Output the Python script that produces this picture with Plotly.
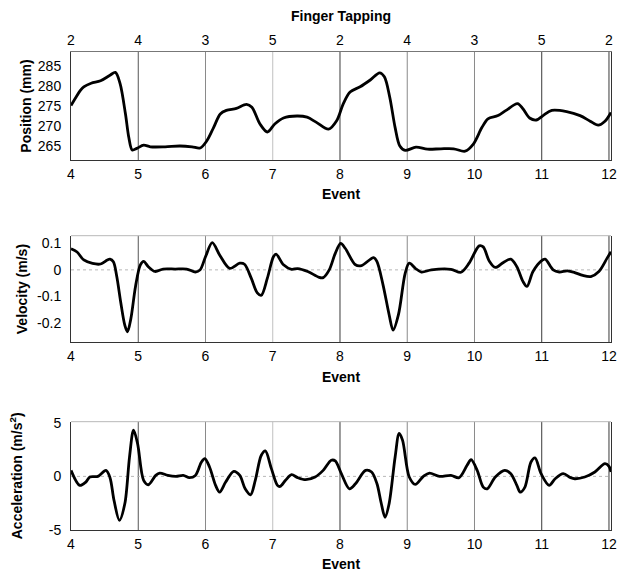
import plotly.graph_objects as go

# ---------------- data ----------------
events = [4, 5, 6, 7, 8, 9, 10, 11, 12]
finger_labels = ["2", "4", "3", "5", "2", "4", "3", "5", "2"]
event_line_colors = ["#444444", "#555555", "#8a8a8a", "#c0c0c0", "#3a3a3a",
                     "#8a8a8a", "#8a8a8a", "#3a3a3a", "#3a3a3a"]

pos_x = [4.00, 4.14, 4.19, 4.30, 4.44, 4.58, 4.66, 4.73, 4.81, 4.86, 4.91, 4.98,
         5.08, 5.18, 5.40, 5.62, 5.80, 5.92, 6.02, 6.12, 6.22, 6.31, 6.46, 6.61,
         6.69, 6.81, 6.92, 7.03, 7.16, 7.36, 7.51, 7.65, 7.83, 7.95, 8.05, 8.15,
         8.30, 8.45, 8.59, 8.66, 8.74, 8.82, 8.89, 8.97, 9.13, 9.30, 9.50, 9.69,
         9.86, 9.98, 10.11, 10.20, 10.35, 10.47, 10.64, 10.72, 10.82, 10.92, 11.02,
         11.15, 11.37, 11.57, 11.72, 11.84, 11.94, 12.03]
pos_y = [275.1, 278.9, 279.8, 280.7, 281.3, 282.7, 283.4, 280.6, 273.0, 267.1, 264.0, 264.4,
         265.2, 264.8, 264.8, 265.0, 264.8, 264.5, 266.3, 269.6, 273.0, 273.9, 274.4, 275.4,
         274.7, 270.5, 268.5, 270.5, 272.0, 272.5, 272.2, 270.9, 269.2, 271.3, 275.6, 278.5,
         279.8, 281.5, 283.3, 282.3, 277.2, 269.6, 265.0, 263.9, 264.7, 264.2, 264.3, 264.3,
         263.7, 265.4, 269.6, 271.8, 272.6, 273.9, 275.6, 274.3, 272.0, 271.5, 272.6,
         273.9, 273.6, 272.6, 271.2, 270.2, 271.2, 273.4]

vel_x = [4.00, 4.09, 4.19, 4.32, 4.44, 4.54, 4.58, 4.63, 4.68, 4.74, 4.80, 4.84, 4.89,
         4.96, 5.03, 5.08, 5.15, 5.25, 5.37, 5.55, 5.72, 5.85, 5.92, 6.00, 6.10, 6.21,
         6.36, 6.51, 6.58, 6.68, 6.77, 6.83, 6.92, 7.01, 7.05, 7.16, 7.28, 7.37, 7.52,
         7.69, 7.75, 7.84, 7.93, 8.01, 8.08, 8.23, 8.32, 8.50, 8.55, 8.64, 8.73, 8.79,
         8.87, 8.97, 9.03, 9.12, 9.21, 9.36, 9.65, 9.80, 9.92, 10.07, 10.13, 10.22,
         10.31, 10.43, 10.54, 10.63, 10.72, 10.78, 10.87, 10.99, 11.05, 11.17, 11.26,
         11.38, 11.49, 11.61, 11.73, 11.85, 11.97, 12.03]
vel_y = [0.079, 0.067, 0.037, 0.024, 0.022, 0.037, 0.040, 0.030, -0.024, -0.122, -0.207,
         -0.232, -0.183, -0.061, 0.018, 0.032, 0.012, -0.006, 0.003, 0.003, 0.003, -0.008,
         0.000, 0.049, 0.102, 0.056, 0.006, 0.025, 0.021, -0.031, -0.086, -0.095, -0.031,
         0.049, 0.059, 0.019, 0.002, 0.005, -0.006, -0.028, -0.029, 0.000, 0.062, 0.099,
         0.080, 0.019, 0.016, 0.046, 0.031, -0.056, -0.167, -0.226, -0.167, -0.012, 0.025,
         0.006, -0.008, 0.000, 0.002, -0.009, 0.025, 0.090, 0.086, 0.033, 0.009, 0.028,
         0.040, 0.012, -0.043, -0.062, -0.006, 0.033, 0.040, 0.000, -0.008, -0.004, -0.010,
         -0.021, -0.025, -0.006, 0.043, 0.068]

acc_x = [4.00, 4.13, 4.22, 4.28, 4.40, 4.52, 4.58, 4.64, 4.72, 4.80, 4.87, 4.93, 4.99,
         5.08, 5.15, 5.26, 5.32, 5.44, 5.56, 5.67, 5.76, 5.85, 5.94, 5.99, 6.06, 6.15,
         6.21, 6.30, 6.42, 6.51, 6.59, 6.67, 6.74, 6.83, 6.89, 6.98, 7.07, 7.11, 7.19,
         7.28, 7.37, 7.49, 7.63, 7.75, 7.87, 7.93, 8.02, 8.14, 8.23, 8.38, 8.47, 8.55,
         8.61, 8.67, 8.73, 8.82, 8.88, 8.93, 9.03, 9.12, 9.24, 9.33, 9.48, 9.65, 9.77,
         9.89, 9.95, 10.04, 10.13, 10.19, 10.31, 10.45, 10.54, 10.63, 10.68, 10.75,
         10.84, 10.90, 10.99, 11.11, 11.20, 11.32, 11.43, 11.49, 11.64, 11.79, 11.94,
         12.00, 12.03]
acc_y = [0.56, -0.84, -0.53, -0.06, 0.00, 0.56, -0.12, -2.25, -4.10, -2.56, 1.80, 4.30,
         3.06, -0.37, -0.78, 0.09, 0.31, 0.09, 0.00, 0.09, -0.12, 0.09, 1.34, 1.66, 0.88,
         -0.84, -1.47, -0.53, 0.47, 0.09, -1.16, -1.72, -0.37, 1.97, 2.38, 0.72, -0.84,
         -0.94, -0.37, 0.16, -0.12, -0.31, -0.06, 0.56, 1.50, 1.44, 0.25, -1.16, -0.69,
         0.56, 0.41, -0.69, -2.41, -3.81, -2.56, 1.81, 4.00, 3.38, -0.06, -0.75, 0.00,
         0.31, 0.00, 0.09, -0.12, 1.03, 1.56, 0.56, -1.00, -1.16, -0.06, 0.56, 0.25,
         -0.84, -1.47, -1.00, 1.34, 1.72, 0.25, -0.84, -0.22, 0.25, -0.12, -0.22, -0.06,
         0.41, 1.19, 0.94, 0.41]

pos_ticks = [265, 270, 275, 280, 285]
vel_ticks = [-0.2, -0.1, 0, 0.1]
vel_ticktext = ["-0.2", "-0.1", "0", "0.1"]
acc_ticks = [-5, 0, 5]
acc_ticktext = ["-5", "0", "5"]
x_ticktext = [str(e) for e in events]

# ---------------- figure ----------------
FONT = "Liberation Sans, Arial, Helvetica, sans-serif"
XR = [4, 12.03]
line_style = dict(color="black", width=2.8, shape="spline", smoothing=0.9)

fig = go.Figure()
fig.add_trace(go.Scatter(x=pos_x, y=pos_y, mode="lines", line=line_style,
                         xaxis="x", yaxis="y", showlegend=False, hoverinfo="skip"))
fig.add_trace(go.Scatter(x=pos_x, y=pos_y, mode="lines", opacity=0,
                         xaxis="x4", yaxis="y", showlegend=False, hoverinfo="skip"))
fig.add_trace(go.Scatter(x=vel_x, y=vel_y, mode="lines", line=line_style,
                         xaxis="x2", yaxis="y2", showlegend=False, hoverinfo="skip"))
fig.add_trace(go.Scatter(x=acc_x, y=acc_y, mode="lines", line=line_style,
                         xaxis="x3", yaxis="y3", showlegend=False, hoverinfo="skip"))

tickfont = dict(family=FONT, size=14, color="black")
titlefont = dict(family=FONT, size=14, color="black", weight="bold")

def xaxis_cfg(anchor):
    return dict(anchor=anchor, domain=[0, 1], range=XR, tickvals=events,
                ticktext=x_ticktext, showgrid=False, zeroline=False,
                showline=True, linecolor="#333333", linewidth=1,
                ticks="", tickfont=tickfont, ticklabelstandoff=1,
                title=dict(text="Event", font=titlefont, standoff=8),
                automargin=False)

def yaxis_cfg(anchor, domain, rng, tv, tt, title, standoff):
    return dict(anchor=anchor, domain=domain, range=rng, tickvals=tv, ticktext=tt,
                showgrid=False, zeroline=False, showline=True, mirror=True,
                linecolor="#333333", linewidth=1, ticks="", tickfont=tickfont,
                ticklabelstandoff=6,
                title=dict(text=title, font=titlefont, standoff=standoff),
                automargin=False)

fig.update_layout(
    width=626, height=573,
    margin=dict(l=71, r=15, t=52, b=43),
    paper_bgcolor="white", plot_bgcolor="white",
    font=dict(family=FONT, size=14, color="black"),
    title=dict(text="Finger Tapping", x=0.5, xref="paper", xanchor="center",
               y=1 - 15.7 / 573, yref="container", yanchor="middle",
               font=dict(family=FONT, size=14, color="black", weight="bold")),
    xaxis=xaxis_cfg("y"),
    xaxis2=xaxis_cfg("y2"),
    xaxis3=xaxis_cfg("y3"),
    xaxis4=dict(overlaying="x", side="top", anchor="y", range=XR, tickvals=events,
                ticktext=finger_labels, showgrid=False, zeroline=False,
                showline=True, linecolor="#777777", linewidth=1, ticks="",
                tickfont=tickfont, ticklabelstandoff=0, automargin=False),
    yaxis=yaxis_cfg("x", [0.7741, 1.0], [261.5, 288.5], pos_ticks, [str(t) for t in pos_ticks],
                    "Position (mm)", 2),
    yaxis2=yaxis_cfg("x2", [0.3923, 0.6157], [-0.272, 0.128], vel_ticks, vel_ticktext,
                     "Velocity (m/s)", 6),
    yaxis3=yaxis_cfg("x3", [0.0, 0.2266], [-5.0, 5.1], acc_ticks, acc_ticktext,
                     "Acceleration (m/s<sup>2</sup>)", 22),
)

shapes = []
for xa, ya in [("x", "y"), ("x2", "y2"), ("x3", "y3")]:
    for ev, col in zip(events[1:], event_line_colors[1:]):
        shapes.append(dict(type="line", xref=xa, yref=f"{ya} domain", x0=ev, x1=ev,
                           y0=0, y1=1, line=dict(color=col, width=1), layer="below"))
for xa, ya in [("x2", "y2"), ("x3", "y3")]:
    shapes.append(dict(type="line", xref=f"{xa} domain", yref=ya, x0=0, x1=1, y0=0, y1=0,
                       line=dict(color="#b8b8b8", width=1, dash="dot"), layer="below"))
    shapes.append(dict(type="line", xref=f"{xa} domain", yref=f"{ya} domain", x0=0, x1=1,
                       y0=1, y1=1, line=dict(color="#b8b8b8", width=1), layer="below"))
fig.update_layout(shapes=shapes)

fig.write_html("out.html",
               config={"displayModeBar": False},
               post_script="document.body.style.margin='0px';"
                           "document.body.style.overflow='hidden';")
